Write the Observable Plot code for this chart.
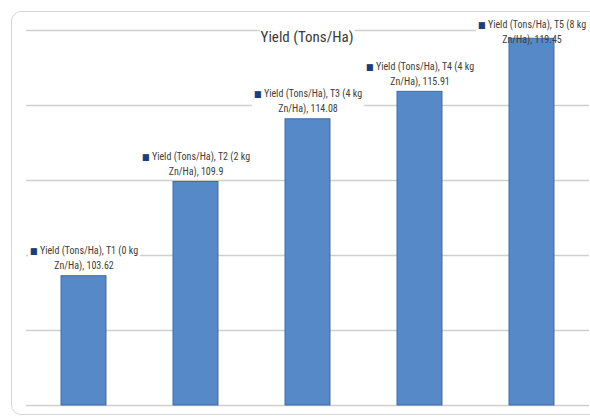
<!DOCTYPE html>
<html>
<head>
<meta charset="utf-8">
<script src="https://cdn.jsdelivr.net/npm/d3@7"></script>
<script src="https://cdn.jsdelivr.net/npm/@observablehq/plot@0.6"></script>
<style>
  html, body { margin: 0; padding: 0; background: #fff; overflow: hidden; }
  #wrap { position: relative; width: 590px; height: 418px; overflow: hidden; }
  #frame { position: absolute; left: 11px; top: 11px; width: 620px; height: 402px;
           border: 1px solid #d6d6d6; border-radius: 10px; pointer-events: none; }
  #title { position: absolute; top: 27px; left: 307px; transform: translateX(-50%);
           background: #fff; font-family: "Liberation Sans Narrow", "Roboto Condensed", "DejaVu Sans Condensed", sans-serif;
           font-size: 15px; color: #3a3a3a; white-space: nowrap; line-height: 20px; padding: 0 1px; }
  #chart { position: absolute; left: 0; top: 0; }
</style>
</head>
<body>
<div id="wrap">
  <div id="chart"></div>
  <div id="frame"></div>
  <div id="title">Yield (Tons/Ha)</div>
</div>
<script>
const seriesName = "Yield (Tons/Ha)";
const categories = ["T1 (0 kg Zn/Ha)", "T2 (2 kg Zn/Ha)", "T3 (4 kg Zn/Ha)", "T4 (4 kg Zn/Ha)", "T5 (8 kg Zn/Ha)"];
const values = [103.62, 109.9, 114.08, 115.91, 119.45];
const yTicks = [95, 100, 105, 110, 115, 120];

const yMin = yTicks[0], yMax = yTicks[yTicks.length - 1];
const data = categories.map((c, i) => ({
  cat: c,
  value: values[i],
  label: `■ ${seriesName}, ${c}, ${values[i]}`.replace(" Zn/Ha)", "\nZn/Ha)")
}));

const font = '"Liberation Sans Narrow", "Roboto Condensed", "DejaVu Sans Condensed", sans-serif';

const chart = Plot.plot({
  width: 590,
  height: 418,
  marginLeft: 26,
  marginRight: 1,
  marginTop: 30,
  marginBottom: 13,
  style: { fontFamily: font, background: "transparent" },
  x: { domain: categories, axis: null, paddingInner: 0.6, paddingOuter: 0.3 },
  y: { domain: [yMin, yMax], axis: null },
  marks: [
    Plot.ruleY(yTicks, { stroke: "#d0d0d0", strokeWidth: 1.3 }),
    Plot.barY(data, { x: "cat", y1: yMin, y2: "value", fill: "#5689c7", stroke: "#3e6ca8", strokeWidth: 1 }),
    Plot.text(data, {
      x: "cat",
      // keep the label block inside the chart frame
      y: d => Math.min(d.value, yMax - 1.3),
      text: "label",
      lineAnchor: "bottom",
      lineHeight: 1.5,
      dy: -7,
      fontSize: 10,
      fill: "#404040"
    })
  ]
});
document.getElementById("chart").append(chart);

// coloured legend-key square + white label backgrounds drawn behind the bars
const svg = chart;
const labelGroup = svg.querySelector('g[aria-label="text"]');
const barsGroup = svg.querySelector('g[aria-label="bar"]');
if (labelGroup && barsGroup) {
  const bgGroup = document.createElementNS("http://www.w3.org/2000/svg", "g");
  if (labelGroup.getAttribute("transform")) bgGroup.setAttribute("transform", labelGroup.getAttribute("transform"));
  labelGroup.querySelectorAll("text").forEach(t => {
    const first = t.querySelector("tspan");
    if (first && first.textContent.startsWith("■")) {
      const rest = first.textContent.slice(1);
      first.textContent = "";
      const sq = document.createElementNS("http://www.w3.org/2000/svg", "tspan");
      sq.setAttribute("fill", "#1f3d78");
      sq.setAttribute("font-size", "9");
      sq.textContent = "■";
      const tx = document.createElementNS("http://www.w3.org/2000/svg", "tspan");
      tx.textContent = rest;
      first.append(sq, tx);
    }
    const b = t.getBBox();
    const r = document.createElementNS("http://www.w3.org/2000/svg", "rect");
    r.setAttribute("x", b.x - 2);
    r.setAttribute("y", b.y);
    r.setAttribute("width", b.width + 4);
    r.setAttribute("height", b.height);
    r.setAttribute("fill", "#fff");
    if (t.getAttribute("transform")) r.setAttribute("transform", t.getAttribute("transform"));
    bgGroup.append(r);
  });
  barsGroup.parentNode.insertBefore(bgGroup, barsGroup);
}
</script>
</body>
</html>
